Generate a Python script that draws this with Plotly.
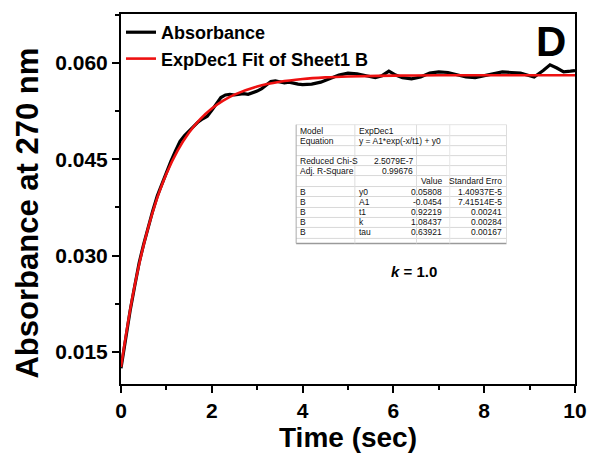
import plotly.graph_objects as go

# ---------------- data ----------------
time_abs = [0.0, 0.1, 0.2, 0.3, 0.4, 0.5, 0.6, 0.7, 0.8, 0.9, 1.0, 1.1, 1.2, 1.3, 1.4, 1.5,
            1.6, 1.7, 1.8, 1.9, 2.0, 2.1, 2.2, 2.3, 2.4, 2.5, 2.6, 2.7, 2.8, 2.9, 3.0, 3.1,
            3.2, 3.3, 3.4, 3.5, 3.6, 3.7, 3.8, 3.9, 4.0, 4.1, 4.2, 4.4, 4.6, 4.8, 5.0, 5.2,
            5.4, 5.6, 5.75, 5.9, 6.05, 6.2, 6.4, 6.6, 6.8, 7.0, 7.2, 7.4, 7.6, 7.8, 8.0,
            8.2, 8.4, 8.6, 8.8, 9.0, 9.1, 9.3, 9.45, 9.6, 9.75, 9.9, 10.0]
absorbance = [0.0125, 0.0172, 0.0214, 0.0252, 0.0289, 0.0318, 0.0346, 0.0370, 0.0393, 0.0412,
              0.0430, 0.0447, 0.0463, 0.0478, 0.0487, 0.0494, 0.0501, 0.0508, 0.0513, 0.0517,
              0.0526, 0.0537, 0.0546, 0.0550, 0.0551, 0.0550, 0.0551, 0.0552, 0.0551, 0.0553,
              0.0556, 0.0560, 0.0566, 0.0571, 0.0572, 0.0570, 0.0569, 0.0570, 0.0568, 0.0567,
              0.0566, 0.0566, 0.0567, 0.0570, 0.0575, 0.0581, 0.0584, 0.0583, 0.0580, 0.0577,
              0.0580, 0.0587, 0.0581, 0.0577, 0.0575, 0.0578, 0.0584, 0.0586, 0.0585, 0.0582,
              0.0578, 0.0577, 0.0580, 0.0583, 0.0586, 0.0585, 0.0584, 0.0580, 0.0578, 0.0588,
              0.0597, 0.0592, 0.0586, 0.0587, 0.0588]

time_fit = [0, 0.25, 0.5, 0.75, 1.0, 1.25, 1.5, 1.75, 2.0, 2.25, 2.5, 3.0, 3.5, 4.0, 4.5,
            5, 6, 7, 8, 9, 10]
fit_values = [0.01268, 0.02346, 0.03168, 0.03795, 0.04273, 0.04638, 0.04915, 0.05127,
              0.05289, 0.05412, 0.05506, 0.05632, 0.05706, 0.05749, 0.05774, 0.05788,
              0.05801, 0.05806, 0.05807, 0.05808, 0.05808]

x_ticks = [0, 2, 4, 6, 8, 10]
y_ticks = [0.015, 0.030, 0.045, 0.060]
y_tick_labels = ["0.015", "0.030", "0.045", "0.060"]

series_names = ["Absorbance", "ExpDec1 Fit of Sheet1 B"]

table_col1 = ["Model", "Equation", "", "Reduced Chi-S", "Adj. R-Square", "", "B", "B", "B", "B", "B"]
table_col2 = ["ExpDec1", "y = A1*exp(-x/t1) + y0", "", "", "", "", "y0", "A1", "t1", "k", "tau"]
table_col2r = ["", "", "", "2.5079E-7", "0.99676", "", "", "", "", "", ""]
table_col3 = ["", "", "", "", "", "Value", "0.05808", "-0.0454", "0.92219", "1.08437", "0.63921"]
table_col4 = ["", "", "", "", "", "Standard Erro", "1.40937E-5", "7.41514E-5", "0.00241", "0.00284", "0.00167"]

# ---------------- geometry ----------------
W_FIG, H_FIG = 599, 457
L, R, T, B = 121, 585, 13, 384
PW, PH = R - L, B - T


def px(x):
    return (x - L) / PW


def py(y):
    return (B - y) / PH


FONT = "Liberation Sans, Arial, sans-serif"

fig = go.Figure()
fig.add_trace(go.Scatter(x=time_abs, y=absorbance, mode="lines", name=series_names[0],
                         line=dict(color="black", width=3.2)))
fig.add_trace(go.Scatter(x=time_fit, y=fit_values, mode="lines", name=series_names[1],
                         line=dict(color="#ee1111", width=2.6, shape="spline")))

axis_common = dict(showline=True, linewidth=2, linecolor="black", mirror=True,
                   ticks="outside", ticklen=7, tickwidth=2, tickcolor="black",
                   showgrid=False, zeroline=False,
                   tickfont=dict(family=FONT, size=21, color="black", weight="bold"))

fig.update_xaxes(range=[0, 10], tickvals=x_ticks,
                 minor=dict(ticks="outside", ticklen=4, tickwidth=2, tickcolor="black", dtick=1, tick0=0),
                 **axis_common)
fig.update_yaxes(range=[0.01003, 0.0676], tickvals=y_ticks, ticktext=y_tick_labels,
                 minor=dict(ticks="outside", ticklen=4, tickwidth=2, tickcolor="black", dtick=0.0075, tick0=0.0075),
                 **axis_common)

annotations = []
shapes = []

# axis titles
annotations.append(dict(text="<b>Time (sec)</b>", x=px(353), y=py(438), xref="paper", yref="paper",
                        showarrow=False, xanchor="center", yanchor="middle",
                        font=dict(family=FONT, size=28, color="black")))
annotations.append(dict(text="<b>Absorbance at 270 nm</b>", x=px(25), y=py(213), xref="paper", yref="paper",
                        showarrow=False, xanchor="center", yanchor="middle", textangle=-90,
                        font=dict(family=FONT, size=31, color="black")))
# panel letter
annotations.append(dict(text="<b>D</b>", x=px(560), y=py(41), xref="paper", yref="paper",
                        showarrow=False, xanchor="center", yanchor="middle",
                        font=dict(family=FONT, size=42, color="black")))
# k label
annotations.append(dict(text="<b><i>k</i> = 1.0</b>", x=px(420), y=py(271), xref="paper", yref="paper",
                        showarrow=False, xanchor="center", yanchor="middle",
                        font=dict(family=FONT, size=15, color="black")))

# ---- inset table ----
tx0, tx1 = 300, 515
row_centers = [130, 140, 150, 160, 170, 180.5, 191, 201.5, 212, 222, 232]
row_bounds = [124, 135, 145, 155, 165, 175, 186, 196, 207, 217, 227, 238]
shapes.append(dict(type="rect", xref="paper", yref="paper", x0=px(tx0), x1=px(tx1),
                   y0=py(243), y1=py(124), fillcolor="white", line=dict(width=0), layer="above"))
for yb in row_bounds[1:]:
    shapes.append(dict(type="line", xref="paper", yref="paper", x0=px(tx0), x1=px(tx1),
                       y0=py(yb), y1=py(yb), line=dict(color="#d8d8d8", width=1), layer="above"))
shapes.append(dict(type="line", xref="paper", yref="paper", x0=px(tx0), x1=px(tx1),
                   y0=py(243), y1=py(243), line=dict(color="#9a9a9a", width=1.5), layer="above"))
shapes.append(dict(type="line", xref="paper", yref="paper", x0=px(tx0), x1=px(tx1),
                   y0=py(124), y1=py(124), line=dict(color="#e4e4e4", width=1), layer="above"))
for xv, col in [(tx0, "#aaaaaa"), (360, "#dddddd"), (423, "#dddddd"), (457, "#e6e6e6"), (tx1, "#dddddd")]:
    shapes.append(dict(type="line", xref="paper", yref="paper", x0=px(xv), x1=px(xv),
                       y0=py(243), y1=py(124), line=dict(color=col, width=1), layer="above"))

tfont = dict(family=FONT, size=8.5, color="#111111")
for i, yc in enumerate(row_centers):
    if table_col1[i]:
        annotations.append(dict(text=table_col1[i], x=px(302), y=py(yc), xref="paper", yref="paper",
                                showarrow=False, xanchor="left", yanchor="middle", font=tfont))
    if table_col2[i]:
        annotations.append(dict(text=table_col2[i], x=px(362), y=py(yc), xref="paper", yref="paper",
                                showarrow=False, xanchor="left", yanchor="middle", font=tfont))
    if table_col2r[i]:
        annotations.append(dict(text=table_col2r[i], x=px(421), y=py(yc), xref="paper", yref="paper",
                                showarrow=False, xanchor="right", yanchor="middle", font=tfont))
    if table_col3[i]:
        if table_col3[i] == "Value":
            annotations.append(dict(text=table_col3[i], x=px(426), y=py(yc), xref="paper", yref="paper",
                                    showarrow=False, xanchor="left", yanchor="middle", font=tfont))
        else:
            annotations.append(dict(text=table_col3[i], x=px(451), y=py(yc), xref="paper", yref="paper",
                                    showarrow=False, xanchor="right", yanchor="middle", font=tfont))
    if table_col4[i]:
        annotations.append(dict(text=table_col4[i], x=px(512), y=py(yc), xref="paper", yref="paper",
                                showarrow=False, xanchor="right", yanchor="middle", font=tfont))

fig.update_layout(
    width=W_FIG, height=H_FIG,
    margin=dict(l=L, r=W_FIG - R, t=T, b=H_FIG - B, pad=0),
    paper_bgcolor="white", plot_bgcolor="white",
    showlegend=True,
    legend=dict(x=0.0, y=1.0, xanchor="left", yanchor="top", bgcolor="rgba(0,0,0,0)",
                font=dict(family=FONT, size=18, color="black", weight="bold"),
                tracegroupgap=0, itemwidth=30),
    annotations=annotations, shapes=shapes,
)

fig.write_html("out.html")
